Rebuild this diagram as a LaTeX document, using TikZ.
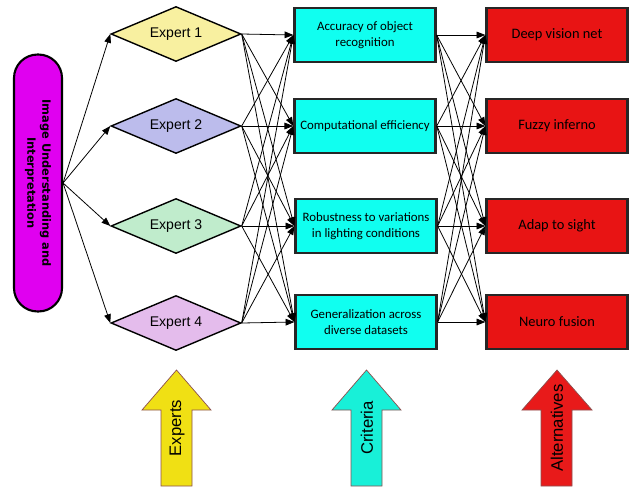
\documentclass[tikz,border=0pt]{standalone}
\usepackage{fontspec}
\setmainfont{Liberation Sans}
\newfontfamily\calfont{Carlito}
\newfontfamily\pillfont{DejaVu Sans}
\usetikzlibrary{shapes.geometric,arrows.meta}

\definecolor{pillmag}{RGB}{224,0,240}
\definecolor{expyellow}{RGB}{248,240,160}
\definecolor{explav}{RGB}{188,188,236}
\definecolor{expmint}{RGB}{192,236,204}
\definecolor{exppink}{RGB}{228,188,236}
\definecolor{critcyan}{RGB}{16,255,240}
\definecolor{altred}{RGB}{232,20,20}
\definecolor{upyellow}{RGB}{240,224,20}
\definecolor{upcyan}{RGB}{24,240,216}
\definecolor{upred}{RGB}{232,26,26}
\definecolor{uprim}{RGB}{140,80,80}

\tikzset{
  expert/.style={diamond, draw, line width=0.8pt, aspect=2.4, inner sep=0pt,
    minimum width=2.6cm, minimum height=1.1cm, font=\fontsize{8}{9}\selectfont},
  critbox/.style={rectangle, draw=black!85, line width=1.3pt, fill=critcyan,
    minimum width=2.82cm, minimum height=1.08cm, align=center,
    font=\calfont\fontsize{7.3}{9}\selectfont},
  altbox/.style={critbox, fill=altred, font=\calfont\fontsize{8.2}{10}\selectfont},
  link/.style={-{Triangle[length=5pt,width=3.8pt]}, line width=0.45pt},
  uparrow/.style={draw=uprim, line width=0.4pt},
  uplabel/.style={rotate=90, font=\fontsize{9.5}{11}\selectfont}
}

\begin{document}
\begin{tikzpicture}[x=0.02cm, y=-0.02cm]

\useasboundingbox (0,0) rectangle (634,487);

\node [rectangle, rotate=-90, draw, line width=1.2pt, fill=pillmag,
  minimum width=5.14cm, minimum height=0.96cm, rounded corners=0.47cm,
  align=center, font=\pillfont\bfseries\fontsize{6.5}{8.5}\selectfont]
  (goal) at (38,183) {Image Understanding and\\Interpretation};

\node [expert, fill=expyellow] (e1) at (176,34) {Expert 1};
\node [expert, fill=explav] (e2) at (176,126) {Expert 2};
\node [expert, fill=expmint] (e3) at (176,226) {Expert 3};
\node [expert, fill=exppink] (e4) at (176,323) {Expert 4};

\node [critbox] (c1) at (365,35) {Accuracy of object\\recognition};
\node [critbox] (c2) at (365,126) {Computational efficiency};
\node [critbox] (c3) at (366,226) {Robustness to variations\\in lighting conditions};
\node [critbox] (c4) at (366,322) {Generalization across\\diverse datasets};

\node [altbox] (a1) at (557,35) {Deep vision net};
\node [altbox] (a2) at (557,126) {Fuzzy inferno};
\node [altbox] (a3) at (557,226) {Adap to sight};
\node [altbox] (a4) at (557,322) {Neuro fusion};


\draw [link] (goal.north) -- (e1.west);
\draw [link] (goal.north) -- (e2.west);
\draw [link] (goal.north) -- (e3.west);
\draw [link] (goal.north) -- (e4.west);


\draw [link] (e1.east) -- (c1.west);
\draw [link] (e1.east) -- (c2.west);
\draw [link] (e1.east) -- (c3.west);
\draw [link] (e1.east) -- (c4.west);
\draw [link] (e2.east) -- (c1.west);
\draw [link] (e2.east) -- (c2.west);
\draw [link] (e2.east) -- (c3.west);
\draw [link] (e2.east) -- (c4.west);
\draw [link] (e3.east) -- (c1.west);
\draw [link] (e3.east) -- (c2.west);
\draw [link] (e3.east) -- (c3.west);
\draw [link] (e3.east) -- (c4.west);
\draw [link] (e4.east) -- (c1.west);
\draw [link] (e4.east) -- (c2.west);
\draw [link] (e4.east) -- (c3.west);
\draw [link] (e4.east) -- (c4.west);


\draw [link] (c1.east) -- (a1.west);
\draw [link] (c1.east) -- (a2.west);
\draw [link] (c1.east) -- (a3.west);
\draw [link] (c1.east) -- (a4.west);
\draw [link] (c2.east) -- (a1.west);
\draw [link] (c2.east) -- (a2.west);
\draw [link] (c2.east) -- (a3.west);
\draw [link] (c2.east) -- (a4.west);
\draw [link] (c3.east) -- (a1.west);
\draw [link] (c3.east) -- (a2.west);
\draw [link] (c3.east) -- (a3.west);
\draw [link] (c3.east) -- (a4.west);
\draw [link] (c4.east) -- (a1.west);
\draw [link] (c4.east) -- (a2.west);
\draw [link] (c4.east) -- (a3.west);
\draw [link] (c4.east) -- (a4.west);


% up arrows under each column
\draw [uparrow, fill=upyellow] (176.5,370) -- (211,410) -- (192,410) -- (192,486)
  -- (161,486) -- (161,410) -- (142,410) -- cycle;
\draw [uparrow, fill=upcyan] (366.5,370) -- (401,410) -- (382,410) -- (382,486)
  -- (351,486) -- (351,410) -- (332,410) -- cycle;
\draw [uparrow, fill=upred] (557,370) -- (592,410) -- (572,410) -- (572,486)
  -- (541,486) -- (541,410) -- (522,410) -- cycle;

\node [uplabel] (lexp) at (177,428) {Experts};
\node [uplabel] (lcrit) at (367,428) {Criteria};
\node [uplabel] (lalt) at (557,428) {Alternatives};

\end{tikzpicture}
\end{document}
